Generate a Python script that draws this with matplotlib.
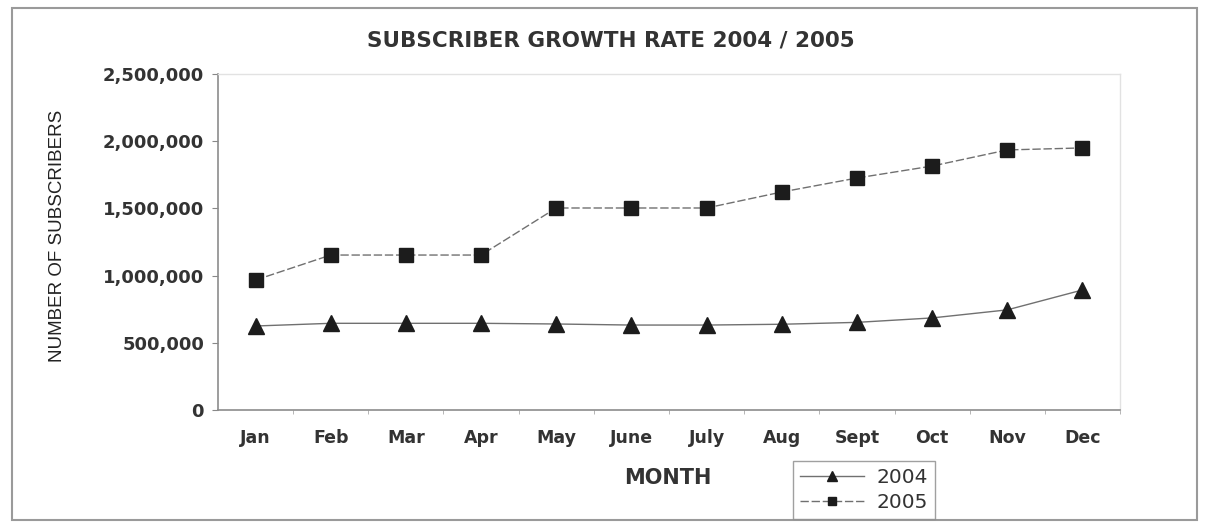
import numpy as np
import matplotlib.pyplot as plt
from matplotlib.patches import Rectangle
from matplotlib.ticker import FuncFormatter

# ----------------------------------------------------------------------
# Data
# ----------------------------------------------------------------------
months = ["Jan", "Feb", "Mar", "Apr", "May", "June", "July", "Aug",
          "Sept", "Oct", "Nov", "Dec"]
subs_2004 = [625000, 645000, 645000, 645000, 640000, 632000, 632000,
             638000, 652000, 685000, 745000, 893000]
subs_2005 = [967000, 1153000, 1153000, 1153000, 1503000, 1503000, 1503000,
             1622000, 1726000, 1815000, 1935000, 1950000]
y_ticks = [0, 500000, 1000000, 1500000, 2000000, 2500000]

TEXT = "#333333"
LINE = "#707070"
MARK = "#1c1c1c"


def main():
    plt.rcParams["font.family"] = ["DejaVu Sans"]
    fig = plt.figure(figsize=(12.08, 5.25), dpi=100)
    fig.patch.set_facecolor("white")

    # scanned page frame
    fig.patches.append(Rectangle((12 / 1208, 5 / 525), 1185 / 1208, 512 / 525,
                                 transform=fig.transFigure, fill=False,
                                 edgecolor="#9a9a9a", linewidth=1.5))

    ax = fig.add_axes([218 / 1208, 1 - 410 / 525, 902 / 1208, 336 / 525])
    x = np.arange(len(months))

    ax.plot(x, subs_2004, color=LINE, linewidth=1.0, marker="^",
            markersize=11, markerfacecolor=MARK, markeredgecolor=MARK,
            label="2004")
    ax.plot(x, subs_2005, color=LINE, linewidth=1.0, linestyle=(0, (6, 2)),
            marker="s", markersize=10, markerfacecolor=MARK,
            markeredgecolor=MARK, label="2005")

    ax.set_xlim(-0.5, 11.45)
    ax.set_ylim(0, 2500000)
    ax.set_yticks(y_ticks)
    ax.yaxis.set_major_formatter(FuncFormatter(lambda v, p: f"{int(v):,}"))
    ax.set_xticks(x)
    ax.set_xticklabels(months)
    ax.set_xticks(x + 0.5, minor=True)

    ax.tick_params(axis="y", length=4, color="#888888", labelsize=13,
                   labelcolor=TEXT, pad=6)
    ax.tick_params(axis="x", which="major", length=0, labelsize=12.5,
                   labelcolor=TEXT, pad=14)
    ax.tick_params(axis="x", which="minor", length=3, color="#aaaaaa")
    for lbl in ax.get_xticklabels() + ax.get_yticklabels():
        lbl.set_fontweight("bold")

    for side in ["left", "bottom"]:
        ax.spines[side].set_color("#8c8c8c")
        ax.spines[side].set_linewidth(1.2)
    for side in ["top", "right"]:
        ax.spines[side].set_color("#e2e2e2")
        ax.spines[side].set_linewidth(1.0)

    fig.text(611 / 1208, 1 - 40 / 525, "SUBSCRIBER GROWTH RATE 2004 / 2005",
             ha="center", va="center", fontsize=15.5, fontweight="bold",
             color=TEXT)
    fig.text(668 / 1208, 1 - 478 / 525, "MONTH", ha="center", va="center",
             fontsize=15, fontweight="bold", color=TEXT)
    fig.text(58 / 1208, 1 - 236 / 525, "NUMBER OF SUBSCRIBERS",
             ha="center", va="center", rotation=90, fontsize=13.5,
             family="Liberation Sans", color="#222222")

    leg = fig.legend(loc="upper left",
                     bbox_to_anchor=(793 / 1208, 1 - 461 / 525),
                     borderaxespad=0, frameon=True, fancybox=False,
                     fontsize=14.5, handlelength=3.2, markerscale=0.6,
                     borderpad=0.35, labelspacing=0.3, handletextpad=0.6)
    leg.get_frame().set_edgecolor("#888888")
    leg.get_frame().set_linewidth(1.0)
    for t in leg.get_texts():
        t.set_color(TEXT)

    fig.savefig("out.png", dpi=100)


if __name__ == "__main__":
    main()
